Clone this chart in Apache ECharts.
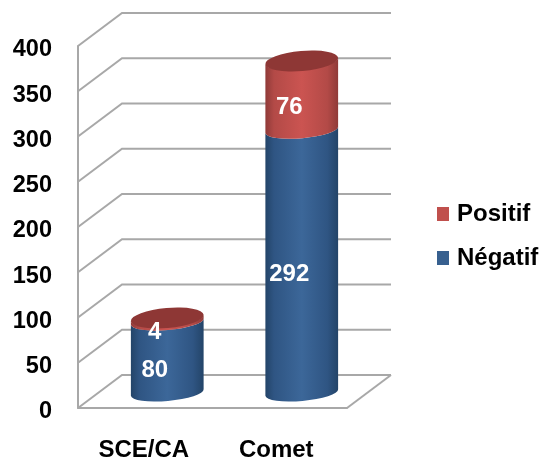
<!DOCTYPE html>
<html>
<head>
<meta charset="utf-8">
<style>html,body{margin:0;padding:0;background:#fff}#main{width:539px;height:459px}</style>
<script src="https://cdn.jsdelivr.net/npm/echarts@6/dist/echarts.min.js"></script>
</head>
<body>
<div id="main"></div>
<script>
// Stacked cylinder chart with a perspective wall and floor.
const categories = ['SCE/CA', 'Comet'];
const negatif = [80, 292];
const positif = [4, 76];
const yTicks = [0, 50, 100, 150, 200, 250, 300, 350, 400];

const FONT = '"Liberation Sans", Arial, sans-serif';
const GRID_COLOR = '#a8a8a8';
const DEPTH_X = 44, DEPTH_Y = -33;   // offset from the front plane to the back wall
const RX = 36.5, RY_CAP = 10, RY_EDGE = 8.5, TILT = -5; // ellipses of each cylinder section
const SHIFT_X = 22, SHIFT_Y = -14;   // cylinder axis relative to the front plane
const FLOOR_SHIFT_Y = -15.5;         // the base sits slightly further back

function ellipseEnds(cx, cy) {
  const a = TILT * Math.PI / 180;
  return {
    lx: cx - RX * Math.cos(a), ly: cy - RX * Math.sin(a),
    rx: cx + RX * Math.cos(a), ry: cy + RX * Math.sin(a)
  };
}
function arc(x, y, sweep, ry) {
  return `A ${RX} ${ry} ${TILT} 0 ${sweep} ${x} ${y}`;
}
// Side wall of a cylinder slice; both ends bulge toward the viewer.
function bodyPath(cx, yBottom, yTop) {
  const b = ellipseEnds(cx, yBottom), t = ellipseEnds(cx, yTop);
  return `M ${b.lx} ${b.ly} L ${t.lx} ${t.ly} ${arc(t.rx, t.ry, 0, RY_EDGE)} L ${b.rx} ${b.ry} ${arc(b.lx, b.ly, 1, RY_EDGE)} Z`;
}
function capPath(cx, y) {
  const e = ellipseEnds(cx, y);
  return `M ${e.lx} ${e.ly} ${arc(e.rx, e.ry, 1, RY_CAP)} ${arc(e.lx, e.ly, 1, RY_CAP)} Z`;
}
function shade(edge, mid) {
  return new echarts.graphic.LinearGradient(0, 0, 1, 0, [
    { offset: 0, color: edge[0] },
    { offset: 0.12, color: edge[1] },
    { offset: 0.5, color: mid },
    { offset: 0.85, color: edge[1] },
    { offset: 1, color: edge[0] }
  ]);
}

function cylinderRenderer(edge, mid, capColor) {
  return function (params, api) {
    const idx = api.value(0);
    const from = api.coord([idx, api.value(1)]);
    const to = api.coord([idx, api.value(2)]);
    const mark = api.coord([idx, (api.value(1) + api.value(2)) / 2]);
    const cx = from[0] + SHIFT_X;
    const baseY = from[1] + (api.value(1) === 0 ? FLOOR_SHIFT_Y : SHIFT_Y);
    const children = [{
      type: 'path',
      shape: { pathData: bodyPath(cx, baseY, to[1] + SHIFT_Y) },
      style: { fill: shade(edge, mid) }
    }];
    if (capColor) {
      children.push({
        type: 'path',
        shape: { pathData: capPath(cx, to[1] + SHIFT_Y) },
        style: { fill: capColor }
      });
    }
    children.push({
      type: 'text',
      style: {
        x: mark[0] + 9.5, y: mark[1] - 1.5,
        text: String(api.value(2) - api.value(1)),
        fill: '#fff', font: 'bold 24px ' + FONT,
        align: 'center', verticalAlign: 'middle'
      }
    });
    return { type: 'group', children };
  };
}

const chart = echarts.init(document.getElementById('main'));
chart.setOption({
  animation: false,
  backgroundColor: '#fff',
  grid: { left: 78, top: 46, width: 269, height: 362, outerBoundsMode: 'none' },
  xAxis: {
    type: 'category',
    data: categories,
    axisTick: { show: false },
    axisLine: { lineStyle: { color: GRID_COLOR, width: 2 } },
    axisLabel: {
      interval: 0, hideOverlap: false,
      color: '#000', fontFamily: FONT, fontWeight: 'bold', fontSize: 24, margin: 30,
      formatter: (v, i) => `{c${i}|${v}}`,
      rich: {
        c0: { fontFamily: FONT, fontWeight: 'bold', fontSize: 24, padding: [0, 3, 0, 0] },
        c1: { fontFamily: FONT, fontWeight: 'bold', fontSize: 24, padding: [0, 7, 0, 0] }
      }
    }
  },
  yAxis: {
    type: 'value', min: 0, max: 400, interval: 50,
    axisLine: { show: true, lineStyle: { color: GRID_COLOR, width: 2 } },
    axisTick: { show: false },
    splitLine: { show: false },
    axisLabel: {
      margin: 26,
      formatter: '{v|{value}}',
      rich: {
        v: { color: '#000', fontFamily: FONT, fontWeight: 'bold', fontSize: 23.5, padding: [8, 0, 0, 0] }
      }
    }
  },
  legend: {
    orient: 'vertical', left: 437, top: 202, padding: 0,
    itemWidth: 12, itemHeight: 14, itemGap: 20, icon: 'rect',
    data: ['Positif', 'Négatif'],
    textStyle: { color: '#000', fontFamily: FONT, fontWeight: 'bold', fontSize: 24, lineHeight: 24, padding: [0, 0, 0, 3] }
  },
  series: [
    {
      // Wall and floor lines: one bent line per value tick, plus the floor's right edge.
      type: 'custom',
      silent: true,
      coordinateSystem: 'cartesian2d',
      data: yTicks.map(v => [0, v]),
      encode: { x: 0, y: 1 },
      z: 1,
      renderItem(params, api) {
        const y = api.coord([0, api.value(1)])[1];
        const x0 = params.coordSys.x, x1 = x0 + params.coordSys.width;
        const children = [{
          type: 'polyline',
          shape: { points: [[x0, y], [x0 + DEPTH_X, y + DEPTH_Y], [x1 + DEPTH_X, y + DEPTH_Y]] },
          style: { stroke: GRID_COLOR, lineWidth: 2, fill: null }
        }];
        if (api.value(1) === 0) {
          children.push({
            type: 'line',
            shape: { x1: x1, y1: y, x2: x1 + DEPTH_X, y2: y + DEPTH_Y },
            style: { stroke: GRID_COLOR, lineWidth: 2 }
          });
        }
        return { type: 'group', children };
      }
    },
    {
      name: 'Négatif',
      type: 'custom',
      coordinateSystem: 'cartesian2d',
      itemStyle: { color: '#37608f' },
      data: categories.map((c, i) => [i, 0, negatif[i]]),
      encode: { x: 0, y: [1, 2] },
      z: 2,
      renderItem: cylinderRenderer(['#234468', '#2f5583'], '#3c6799', null)
    },
    {
      name: 'Positif',
      type: 'custom',
      coordinateSystem: 'cartesian2d',
      itemStyle: { color: '#c0504d' },
      data: categories.map((c, i) => [i, negatif[i], negatif[i] + positif[i]]),
      encode: { x: 0, y: [1, 2] },
      z: 3,
      renderItem: cylinderRenderer(['#8f3a38', '#b34a47'], '#cb5451', '#8e3735')
    }
  ]
});
</script>
</body>
</html>
